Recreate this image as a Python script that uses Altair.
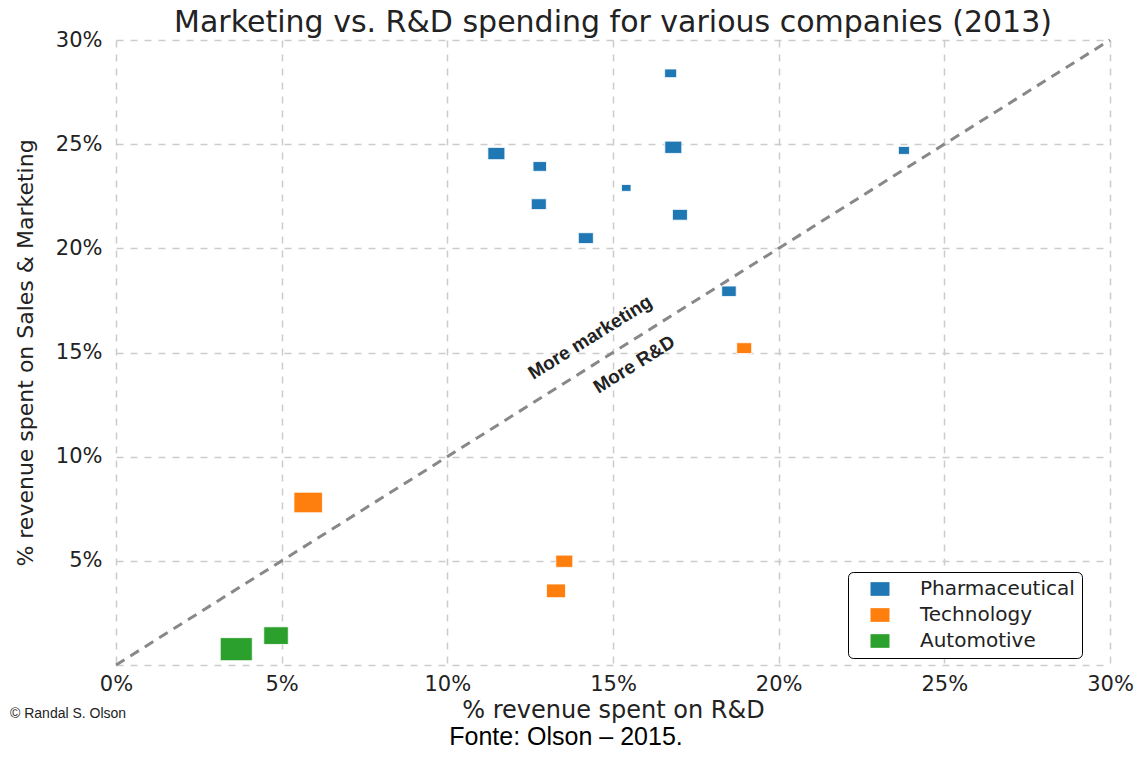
import altair as alt
import pandas as pd

# ---- data ----
industry = ["Pharmaceutical"] * 10 + ["Technology"] * 4 + ["Automotive"] * 2
rd_pct = [16.74, 11.48, 12.79, 16.82, 15.40, 12.76, 17.02, 14.18, 23.78, 18.50,
          18.96, 5.80, 13.53, 13.28,
          3.63, 4.83]
mkt_pct = [28.40, 24.55, 23.93, 24.85, 22.90, 22.12, 21.61, 20.49, 24.70, 17.94,
           15.21, 7.80, 4.98, 3.56,
           0.76, 1.41]
revenue = [14.4, 28.9, 18.2, 28.9, 9.0, 22.5, 22.5, 22.5, 12.1, 21.0,
           22.5, 81.2, 28.9, 36.1,
           102.4, 60.0]
categories = ["Pharmaceutical", "Technology", "Automotive"]
palette = ["#1f77b4", "#ff7f0e", "#2ca02c"]
tick_values = [0, 5, 10, 15, 20, 25, 30]
diag_values = [0, 30]
ann_text = ["More marketing", "More R&D"]
ann_x = [14.31, 15.64]
ann_y = [15.72, 14.42]
title_text = "Marketing vs. R&D spending for various companies (2013)"
x_title = "% revenue spent on R&D"
y_title = "% revenue spent on Sales & Marketing"
credit_text = "\u00a9 Randal S. Olson"
source_text = "Fonte: Olson \u2013 2015."

df = pd.DataFrame({"industry": industry, "rd": rd_pct, "mkt": mkt_pct, "revenue": revenue})
diag_df = pd.DataFrame({"rd": diag_values, "mkt": diag_values})
ann_df = pd.DataFrame({"t": ann_text, "rd": ann_x, "mkt": ann_y})

W, H = 994, 625
RECT = "M-1,-0.72L1,-0.72L1,0.72L-1,0.72Z"

xscale = alt.Scale(domain=[0, 30], nice=False, zero=False)
yscale = alt.Scale(domain=[0, 30], nice=False, zero=False)

x_axis = alt.Axis(values=tick_values, labelExpr="datum.value + '%'", title=x_title,
                  titleX=W / 2, titleY=45, titleBaseline="middle", titleFontSize=24,
                  labelPadding=8, tickSize=0, labelFlush=False)
y_axis = alt.Axis(values=tick_values, labelExpr="datum.value == 0 ? '' : datum.value + '%'",
                  title=y_title, titleX=-91, titleY=H / 2, titleAngle=270,
                  titleAlign="center", titleBaseline="middle", titleFontSize=22,
                  labelPadding=14, tickSize=0, labelFlush=False)

diag = alt.Chart(diag_df).mark_line(color="#888888", strokeWidth=3, strokeDash=[10, 7]).encode(
    x=alt.X("rd:Q", scale=xscale, axis=x_axis),
    y=alt.Y("mkt:Q", scale=yscale, axis=y_axis),
)

points = alt.Chart(df).mark_point(filled=True, shape=RECT, opacity=1, stroke="white",
                                  strokeWidth=0.8).encode(
    x=alt.X("rd:Q", scale=xscale),
    y=alt.Y("mkt:Q", scale=yscale),
    color=alt.Color("industry:N", scale=alt.Scale(domain=categories, range=palette),
                    title=None,
                    legend=alt.Legend(orient="none", legendX=732, legendY=532,
                                      symbolType=RECT, symbolSize=361,
                                      labelFontSize=20, labelFont="DejaVu Sans",
                                      labelColor="#222222", strokeColor="black",
                                      fillColor="white", cornerRadius=5, padding=7,
                                      symbolOffset=15, labelOffset=30, rowPadding=6,
                                      symbolStrokeWidth=0, symbolOpacity=1)),
    size=alt.Size("revenue:Q", scale=alt.Scale(domain=[0, 110], range=[0, 1100]), legend=None),
)

ann = alt.Chart(ann_df).mark_text(font="Liberation Sans", fontWeight="bold", fontSize=19,
                                  angle=328, color="#222222").encode(
    x=alt.X("rd:Q", scale=xscale),
    y=alt.Y("mkt:Q", scale=yscale),
    text="t:N",
)

title = alt.Chart(pd.DataFrame({"t": [title_text]})).mark_text(
    font="DejaVu Sans", fontSize=30, align="center", baseline="alphabetic", color="#222222"
).encode(text="t:N", x=alt.value(W / 2), y=alt.value(-8))

credit = alt.Chart(pd.DataFrame({"t": [credit_text]})).mark_text(
    font="Liberation Sans", fontSize=14, align="left", baseline="middle", color="#222222"
).encode(text="t:N", x=alt.value(-106), y=alt.value(674))

source = alt.Chart(pd.DataFrame({"t": [source_text]})).mark_text(
    font="Liberation Sans", fontSize=25, align="center", baseline="alphabetic", color="#000000"
).encode(text="t:N", x=alt.value(450), y=alt.value(705))

chart = alt.layer(diag, points, ann, title, credit, source).properties(
    width=W, height=H,
    background="white",
    autosize=alt.AutoSizeParams(type="none"),
    padding={"left": 108, "top": 32, "right": 26, "bottom": 85},
).configure_view(strokeWidth=0).configure_axis(
    grid=True, gridColor="#cccccc", gridDash=[7, 7], gridWidth=1.5, domain=False,
    labelFont="DejaVu Sans", labelFontSize=21, labelColor="#222222",
    titleFont="DejaVu Sans", titleFontWeight="normal", titleColor="#222222",
)

chart.save("out.html", embed_options={"renderer": "svg", "actions": False})
